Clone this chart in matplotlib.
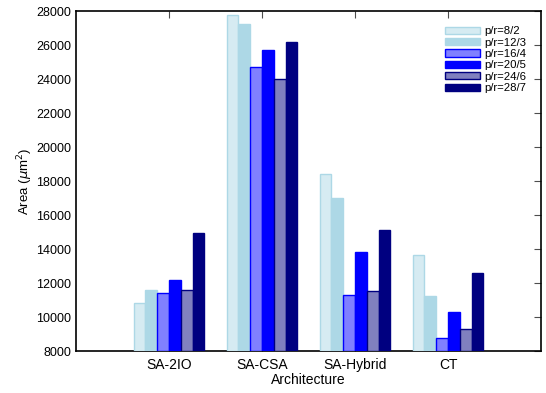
import numpy as np
import matplotlib
matplotlib.use('Agg')
import matplotlib.pyplot as plt

plt.rcParams['font.family'] = ['Liberation Sans', 'DejaVu Sans']

architectures = ['SA-2IO', 'SA-CSA', 'SA-Hybrid', 'CT']
series = ['p/r=8/2', 'p/r=12/3', 'p/r=16/4', 'p/r=20/5', 'p/r=24/6', 'p/r=28/7']
area = [
    [10850, 27760, 18430, 13650],
    [11600, 27220, 17020, 11250],
    [11400, 24700, 11280, 8750],
    [12200, 25700, 13820, 10280],
    [11600, 24020, 11530, 9280],
    [14950, 26160, 15100, 12590],
]

# (fill, edge) per series
styles = [
    ((0.84, 0.92, 0.95), 'lightblue'),
    ('lightblue', 'lightblue'),
    ((0.5, 0.5, 1.0), 'blue'),
    ('blue', 'blue'),
    ((0.5, 0.5, 0.75), 'navy'),
    ('navy', 'navy'),
]

fig = plt.figure(figsize=(5.46, 3.93), dpi=100)
ax = fig.add_axes([76 / 546, 42 / 393, 465 / 546, 340 / 393])

x = np.arange(1, len(architectures) + 1)
w = 0.127
for i, (name, vals) in enumerate(zip(series, area)):
    fc, ec = styles[i]
    offs = (i - 2.5) * w
    ax.bar(x + offs, np.array(vals) - 8000, width=w, bottom=8000,
           color=fc, edgecolor=ec, linewidth=1.0, label=name, zorder=3)

ax.set_xlim(0, 5)
ax.set_ylim(8000, 28000)
ax.set_yticks(np.arange(8000, 28001, 2000))
ax.set_xticks(x)
ax.set_xticklabels(architectures, fontsize=10)
ax.tick_params(axis='y', labelsize=9, left=False, right=True, direction='in', length=5,
               color='0.3')
ax.tick_params(axis='x', top=True, bottom=True, direction='in', length=5, color='0.3',
               pad=5)
for s in ax.spines.values():
    s.set_linewidth(1.2)

ax.set_xlabel('Architecture', fontsize=10, labelpad=1)
ax.set_ylabel(r'Area ($\mu$m$^2$)', fontsize=9.5, labelpad=1)

ax.legend(loc='upper right', frameon=False, fontsize=8.2, handlelength=3.0,
          handleheight=0.6, labelspacing=0.12, handletextpad=0.4,
          bbox_to_anchor=(0.99, 0.985))

fig.savefig('out.png', dpi=100)
